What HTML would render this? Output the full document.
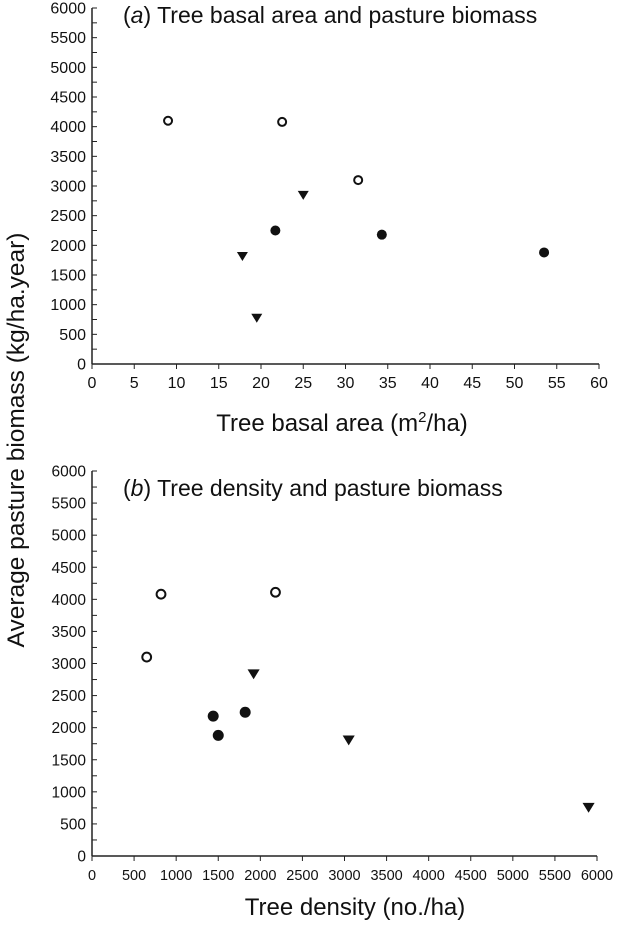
<!DOCTYPE html>
<html><head><meta charset="utf-8"><style>
body{margin:0;background:#fff}
svg text{font-family:"Liberation Sans",sans-serif;fill:#111}
</style></head><body>
<svg id="c" width="640" height="925" xmlns="http://www.w3.org/2000/svg">
<text transform="translate(24,440) rotate(-90)" text-anchor="middle" font-size="24.5">Average pasture biomass (kg/ha.year)</text>
</svg>
<script>
const aCat=["open","open","open","filled","filled","filled","tri","tri","tri"];
const aX=[9,22.5,31.5,21.7,34.3,53.5,17.8,19.5,25];
const aY=[4100,4080,3100,2250,2180,1880,1820,780,2850];
const bX=[820,2180,650,1440,1500,1820,1920,3050,5900];
const bY=[4080,4110,3100,2180,1880,2240,2840,1810,760];
const yTicks=[0,500,1000,1500,2000,2500,3000,3500,4000,4500,5000,5500,6000];
const aTicks=[0,5,10,15,20,25,30,35,40,45,50,55,60];
const bTicks=[0,500,1000,1500,2000,2500,3000,3500,4000,4500,5000,5500,6000];
const svg=document.getElementById('c');
const NS='http://www.w3.org/2000/svg';
function mk(t,at,p){const e=document.createElementNS(NS,t);for(const k in at)e.setAttribute(k,at[k]);(p||svg).appendChild(e);return e;}
function panel(o){
  const g=mk('g',{});
  
  
  const x0=92,x1=o.xr,yb=o.yb,yt=o.yt;
  const sx=v=>x0+v/o.xmax*(x1-x0);
  const sy=v=>yb-v/6000*(yb-yt);
  const ax=mk('line',{x1:x0,y1:yb,x2:x1,y2:yb,stroke:'#222','stroke-width':1.5},g);
  
  const ay=mk('line',{x1:x0,y1:yb,x2:x0,y2:yt,stroke:'#222','stroke-width':1.5},g);
  
  yTicks.forEach((v,i)=>{
    mk('line',{x1:x0,y1:sy(v),x2:x0+5,y2:sy(v),stroke:'#222'},g);
    if(i<yTicks.length-1)mk('line',{x1:x0,y1:sy(v+250),x2:x0+5,y2:sy(v+250),stroke:'#222'},g);
    const t=mk('text',{x:x0-6,y:sy(v)+5.5,'text-anchor':'end','font-size':o.yfs},g);
    
    t.textContent=v;
  });
  o.xt.forEach(v=>{
    mk('line',{x1:sx(v),y1:yb,x2:sx(v),y2:yb+5,stroke:'#222'},g);
    const t=mk('text',{x:sx(v),y:yb+24,'text-anchor':'middle','font-size':o.xfs},g);
    
    t.textContent=v;
  });
  const tt=mk('text',{x:o.tx,y:o.ty,'font-size':23},g);
  
  tt.innerHTML=o.title;
  const xt=mk('text',{x:o.xtx,y:o.xty,'text-anchor':'middle','font-size':24},g);
  
  xt.innerHTML=o.xtitle;
  o.X.forEach((v,i)=>{
    const cx=sx(v),cy=sy(o.Y[i]),c=aCat[i],s=o.ms;let m;
    if(c==='open')m=mk('circle',{cx,cy,r:4*s,fill:'#fff',stroke:'#111','stroke-width':2},g);
    else if(c==='filled')m=mk('circle',{cx,cy,r:5*s,fill:'#111'},g);
    else m=mk('polygon',{points:`${cx-5.5*s},${cy-4*s} ${cx+5.5*s},${cy-4*s} ${cx},${cy+5*s}`,fill:'#111'},g);
    
    
  });
}
panel({name:'panel-a',xr:599,xmax:60,yb:364,yt:8,xt:aTicks,xfs:16,yfs:16,ms:1,X:aX,Y:aY,
  tx:123,ty:23,title:'(<tspan font-style="italic">a</tspan>)  Tree basal area and pasture biomass',
  xtx:342,xty:431,xtitle:'Tree basal area (m<tspan dy="-9" font-size="15">2</tspan><tspan dy="9">/ha)</tspan>'});
panel({name:'panel-b',xr:597,xmax:6000,yb:856,yt:471,xt:bTicks,xfs:14.5,yfs:15.5,ms:1.1,X:bX,Y:bY,
  tx:123,ty:496,title:'(<tspan font-style="italic">b</tspan>)  Tree density and pasture biomass',
  xtx:355,xty:915,xtitle:'Tree density (no./ha)'});
</script>
</body></html>
